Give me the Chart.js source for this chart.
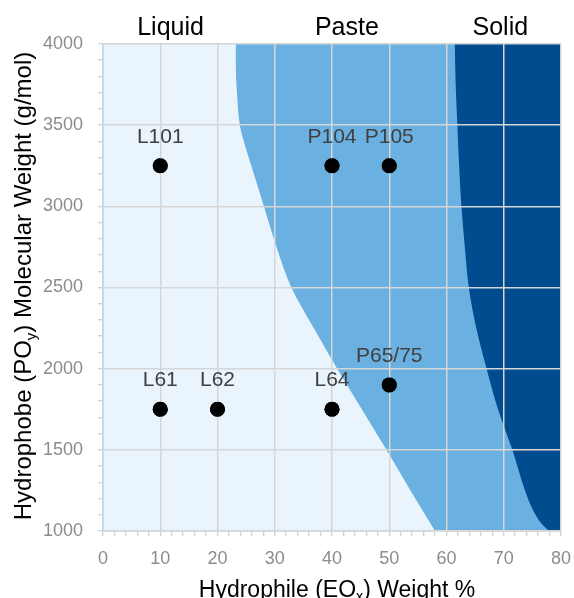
<!DOCTYPE html>
<html><head><meta charset="utf-8">
<script src="https://cdn.jsdelivr.net/npm/chart.js@4"></script>
<style>html,body{margin:0;padding:0;background:#fff;}canvas{display:block;}</style>
</head><body>
<canvas id="c" width="574" height="598"></canvas>
<script>
// ---- data ----
const productNames = ['L101', 'P104', 'P105', 'L61', 'L62', 'L64', 'P65/75'];
const eoWeightPct  = [10, 40, 50, 10, 20, 40, 50];
const poMolWeight  = [3250, 3250, 3250, 1750, 1750, 1750, 1900];

const phaseNames   = ['Liquid', 'Paste', 'Solid'];
const phaseLabelAt = [11.8, 42.6, 69.4];

// Liquid / Paste boundary (EO %, PO molecular weight)
const liquidPasteEO = [23.2, 23.2, 23.4, 23.9, 24.8, 25.9, 28.1, 30.3, 32.9, 36.8, 40.9, 45.2, 49.5, 53.7, 58.0];
const liquidPasteMW = [4000, 3850, 3700, 3500, 3375, 3250, 3000, 2750, 2500, 2250, 2000, 1750, 1500, 1250, 1000];
// Paste / Solid boundary
const pasteSolidEO = [61.45, 61.6, 61.9, 62.2, 62.6, 63.2, 63.9, 65.2, 67.0, 69.0, 71.5, 73.7, 75.1, 76.5, 77.9];
const pasteSolidMW = [4000, 3750, 3500, 3250, 3000, 2750, 2500, 2250, 2000, 1750, 1500, 1250, 1130, 1050, 1000];

const xRange = [0, 80];
const yRange = [1000, 4000];
const xMajorStep = 10, xMinorStep = 2;
const yMajorStep = 500, yMinorStep = 100;

// ---- build series ----
const b1 = liquidPasteEO.map((x, i) => ({x, y: liquidPasteMW[i]}));
const b2 = pasteSolidEO.map((x, i) => ({x, y: pasteSolidMW[i]}));
const products = eoWeightPct.map((x, i) => ({x, y: poMolWeight[i]}));

const FONT = '"Liberation Sans", Arial, sans-serif';
// boundary curve filled horizontally to a given EO value
const regionDs = (data, fillTo, color, order) => ({
  type: 'line', indexAxis: 'y', xAxisID: 'x', yAxisID: 'y', data, order,
  fill: {value: fillTo}, backgroundColor: color, borderWidth: 0, borderColor: 'rgba(0,0,0,0)',
  pointRadius: 0, cubicInterpolationMode: 'monotone'
});

function drawRich(ctx, parts, cx, baseY, size) {
  let total = 0;
  parts.forEach(p => {
    ctx.font = (p.sub ? size * 0.62 : size) + 'px ' + FONT;
    p.w = ctx.measureText(p.t).width; total += p.w;
  });
  let x = cx - total / 2;
  ctx.textAlign = 'left'; ctx.textBaseline = 'alphabetic';
  parts.forEach(p => {
    ctx.font = (p.sub ? size * 0.62 : size) + 'px ' + FONT;
    ctx.fillText(p.t, x, baseY + (p.sub ? size * 0.2 : 0));
    x += p.w;
  });
}

const overlay = {
  id: 'overlay',
  afterDraw(chart) {
    const ctx = chart.ctx;
    const meta = chart.getDatasetMeta(0);
    meta.controller.draw();
    ctx.save();
    ctx.fillStyle = '#404040';
    ctx.font = '21px ' + FONT;
    ctx.textAlign = 'center'; ctx.textBaseline = 'alphabetic';
    meta.data.forEach((pt, i) => ctx.fillText(productNames[i], pt.x, pt.y - 23));
    ctx.fillStyle = '#000';
    drawRich(ctx, [{t: 'Hydrophile (EO'}, {t: 'x', sub: true}, {t: ') Weight %'}], 337, 596.5, 23);
    ctx.rotate(-Math.PI / 2);
    drawRich(ctx, [{t: 'Hydrophobe (PO'}, {t: 'y', sub: true}, {t: ') Molecular Weight (g/mol)'}], -286, 30.7, 24);
    ctx.restore();
  }
};

const noPad = s => { s.paddingLeft = 0; s.paddingRight = 0; };

new Chart(document.getElementById('c'), {
  type: 'scatter',
  data: {
    datasets: [
      {type: 'scatter', data: products, backgroundColor: '#000', borderWidth: 0,
       pointRadius: 7.5, pointHoverRadius: 7.5, order: 0},
      regionDs(b2, xRange[1], '#004c8f', 1),   // Solid
      regionDs(b1, xRange[1], '#6ab0e0', 2),   // Paste (under Solid)
      regionDs(b1, xRange[0], '#eaf4fc', 3)    // Liquid
    ]
  },
  plugins: [overlay],
  options: {
    responsive: false, animation: false, events: [], devicePixelRatio: 1,
    layout: {padding: {left: 0, right: 13, top: 0, bottom: 0}},
    plugins: {legend: {display: false}, tooltip: {enabled: false}},
    scales: {
      x: {
        type: 'linear', position: 'bottom', min: xRange[0], max: xRange[1],
        afterFit: s => { s.height = 67; noPad(s); },
        grid: {
          z: 1, lineWidth: 1.5, tickLength: 5, tickColor: '#c4c4c4', tickWidth: 1,
          color: c => (c.tick && c.tick.value % xMajorStep === 0) ? '#d6d6d6' : 'rgba(0,0,0,0)'
        },
        border: {color: '#c8c8c8', width: 1.5, z: 1},
        ticks: {
          stepSize: xMinorStep, autoSkip: false, maxRotation: 0, padding: 12,
          color: '#8c8c8c', font: {family: FONT, size: 18},
          callback: v => (v % xMajorStep === 0) ? String(v) : ''
        }
      },
      x2: {
        type: 'linear', axis: 'x', position: 'top', min: xRange[0], max: xRange[1],
        afterFit: s => { s.height = 44; noPad(s); },
        afterBuildTicks: s => { s.ticks = phaseLabelAt.map(v => ({value: v})); },
        grid: {display: false}, border: {display: false},
        ticks: {
          autoSkip: false, maxRotation: 0, padding: -7, color: '#000',
          font: {family: FONT, size: 25},
          callback: (v, i) => phaseNames[i]
        }
      },
      y: {
        type: 'linear', position: 'left', min: yRange[0], max: yRange[1],
        afterFit: s => { s.width = 103; },
        grid: {
          z: 1, lineWidth: 1.5, tickLength: 5, tickColor: '#c4c4c4', tickWidth: 1,
          color: c => (c.tick && c.tick.value % yMajorStep === 0) ? '#d6d6d6' : 'rgba(0,0,0,0)'
        },
        border: {color: '#b9d5ee', width: 1.5, z: 1},
        ticks: {
          stepSize: yMinorStep, autoSkip: false, padding: 15,
          color: '#8c8c8c', font: {family: FONT, size: 18},
          callback: v => (v % yMajorStep === 0) ? String(v) : ''
        }
      }
    }
  }
});
</script>
</body></html>
